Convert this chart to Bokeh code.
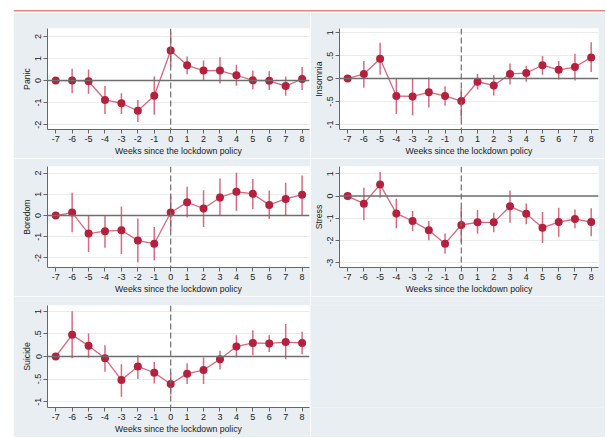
from bokeh.plotting import figure
from bokeh.layouts import row, column
from bokeh.models import Range1d, FixedTicker, Span, Spacer
from bokeh.embed import file_html
from bokeh.resources import INLINE

weeks = [-7, -6, -5, -4, -3, -2, -1, 0, 1, 2, 3, 4, 5, 6, 7, 8]
week_labels = ["-7", "-6", "-5", "-4", "-3", "-2", "-1", "0", "1", "2", "3", "4", "5", "6", "7", "8"]

panic = [0, 0, -0.03, -0.88, -1.03, -1.37, -0.69, 1.36, 0.69, 0.45, 0.45, 0.24, 0.01, -0.01, -0.25, 0.07]
panic_lo = [0, -0.58, -0.6, -1.52, -1.52, -1.88, -1.55, 0.64, 0.28, -0.01, -0.13, -0.24, -0.39, -0.43, -0.69, -0.43]
panic_hi = [0, 0.54, 0.5, -0.25, -0.58, -0.88, 0.18, 2.18, 1.09, 0.91, 1.06, 0.72, 0.46, 0.42, 0.18, 0.61]

insomnia = [0, 0.10, 0.43, -0.38, -0.39, -0.30, -0.38, -0.49, -0.07, -0.15, 0.10, 0.12, 0.29, 0.19, 0.25, 0.46]
insomnia_lo = [0, -0.2, 0.08, -0.77, -0.80, -0.63, -0.59, -0.88, -0.24, -0.37, -0.13, -0.07, 0.08, -0.02, -0.04, 0.14]
insomnia_hi = [0, 0.38, 0.78, 0.0, 0.0, 0.02, -0.17, -0.22, 0.10, 0.07, 0.33, 0.28, 0.49, 0.38, 0.54, 0.79]

boredom = [0, 0.14, -0.85, -0.74, -0.70, -1.18, -1.33, 0.14, 0.62, 0.33, 0.85, 1.12, 1.02, 0.50, 0.78, 0.98]
boredom_lo = [0, -0.79, -1.72, -1.52, -1.81, -2.22, -2.11, -0.71, -0.09, -0.54, -0.02, 0.22, 0.29, -0.17, 0.0, 0.0]
boredom_hi = [0, 1.07, -0.02, 0.0, 0.42, -0.14, -0.54, 0.96, 1.35, 1.19, 1.75, 2.02, 1.72, 1.18, 1.55, 1.89]

stress = [0, -0.34, 0.52, -0.78, -1.12, -1.54, -2.14, -1.30, -1.18, -1.18, -0.46, -0.79, -1.42, -1.17, -1.03, -1.17]
stress_lo = [0, -1.09, -0.07, -1.45, -1.57, -1.98, -2.59, -2.07, -1.69, -1.63, -1.20, -1.27, -2.11, -1.83, -1.45, -1.80]
stress_hi = [0, 0.37, 1.08, -0.12, -0.67, -1.12, -1.68, -0.52, -0.63, -0.75, 0.25, -0.33, -0.72, -0.52, -0.60, -0.55]

suicide = [0, 0.48, 0.24, -0.04, -0.52, -0.22, -0.36, -0.61, -0.38, -0.30, -0.06, 0.22, 0.30, 0.29, 0.32, 0.30]
suicide_lo = [0, -0.04, -0.03, -0.34, -0.89, -0.50, -0.60, -0.85, -0.61, -0.61, -0.29, -0.02, 0.03, 0.10, -0.06, 0.05]
suicide_hi = [0, 1.0, 0.51, 0.25, -0.17, 0.03, -0.12, -0.36, -0.15, -0.02, 0.13, 0.47, 0.58, 0.47, 0.72, 0.55]

x_title = "Weeks since the lockdown policy"

GREY = "#e8eef1"
FONT = "Liberation Sans"
MARK = "#b5203d"
LINE = "#d8677b"
BAR = "#d45b70"


def panel(name, y, lo, hi, yr, yticks, ylabels, width, height, bl, br, bt, bb):
    p = figure(width=width, height=height, output_backend="svg", toolbar_location=None,
               x_range=Range1d(-7.5, 8.45), y_range=Range1d(*yr),
               min_border_left=bl, min_border_right=br, min_border_top=bt, min_border_bottom=bb)
    p.border_fill_color = GREY
    p.background_fill_color = "white"
    p.outline_line_color = None
    p.xgrid.visible = False
    p.ygrid.grid_line_color = "#ebebeb"
    p.ygrid.grid_line_width = 1

    p.xaxis.ticker = FixedTicker(ticks=weeks)
    p.xaxis.major_label_overrides = {t: l for t, l in zip(weeks, week_labels)}
    p.yaxis.ticker = FixedTicker(ticks=yticks)
    p.yaxis.major_label_overrides = {t: l for t, l in zip(yticks, ylabels)}
    p.yaxis.major_label_orientation = "vertical"
    for ax in (p.xaxis[0], p.yaxis[0]):
        ax.axis_line_color = "#666666"
        ax.major_tick_line_color = "#666666"
        ax.major_tick_out = 4
        ax.major_tick_in = 0
        ax.minor_tick_line_color = None
        ax.major_label_text_font = FONT
        ax.major_label_text_font_size = "9px"
        ax.major_label_text_color = "#222222"
        ax.major_label_standoff = 2
        ax.axis_label_text_font = FONT
        ax.axis_label_text_font_size = "8.7px"
        ax.axis_label_text_font_style = "normal"
        ax.axis_label_text_color = "#222222"
        ax.axis_label_standoff = 1
    p.xaxis.axis_label = x_title
    p.yaxis.axis_label = name

    p.add_layout(Span(location=0, dimension="width", line_color="#6e6e6e", line_width=1.5))
    p.add_layout(Span(location=0, dimension="height", line_color="#6e6e6e", line_width=1.2,
                      line_dash="6 3"))

    p.segment(x0=weeks, y0=lo, x1=weeks, y1=hi, line_color=BAR, line_width=1.5, line_alpha=0.9)
    p.line(weeks, y, line_color=LINE, line_width=1.3)
    p.scatter(weeks, y, size=8, fill_color=MARK, line_color=None)
    return p


W1, W2 = 297, 295
p1 = panel("Panic", panic, panic_lo, panic_hi, (-2.22, 2.36), [-2, -1, 0, 1, 2],
           ["-2", "-1", "0", "1", "2"], W1, 146, 34, 1, 16, 28)
p2 = panel("Insomnia", insomnia, insomnia_lo, insomnia_hi, (-1.11, 1.09), [-1, -0.5, 0, 0.5, 1],
           ["-1", "-.5", "0", ".5", "1"], W2, 146, 26, 7, 16, 28)
p3 = panel("Boredom", boredom, boredom_lo, boredom_hi, (-2.45, 2.31), [-2, -1, 0, 1, 2],
           ["-2", "-1", "0", "1", "2"], W1, 138, 34, 1, 8, 28)
p4 = panel("Stress", stress, stress_lo, stress_hi, (-3.21, 1.33), [-3, -2, -1, 0, 1],
           ["-3", "-2", "-1", "0", "1"], W2, 138, 26, 7, 8, 28)
p5 = panel("Suicide", suicide, suicide_lo, suicide_hi, (-1.13, 1.13), [-1, -0.5, 0, 0.5, 1],
           ["-1", "-.5", "0", ".5", "1"], W1, 141, 34, 1, 9, 30)


def blank(width, height, fill):
    b = figure(width=width, height=height, output_backend="svg", toolbar_location=None,
               x_range=Range1d(0, 1), y_range=Range1d(0, height), min_border=0)
    b.axis.visible = False
    b.grid.visible = False
    b.outline_line_color = None
    b.background_fill_color = fill
    b.border_fill_color = fill
    return b


top = blank(W1 + W2, 12, "white")
top.add_layout(Span(location=1.7, dimension="width", line_color="#e3847e", line_width=1.6))

filler = blank(W2, 141, GREY)

inner = column(top, row(p1, p2), row(p3, p4), row(p5, filler))
layout = row(Spacer(width=13, height=437), inner)

open("out.html", "w").write(file_html(layout, INLINE))
